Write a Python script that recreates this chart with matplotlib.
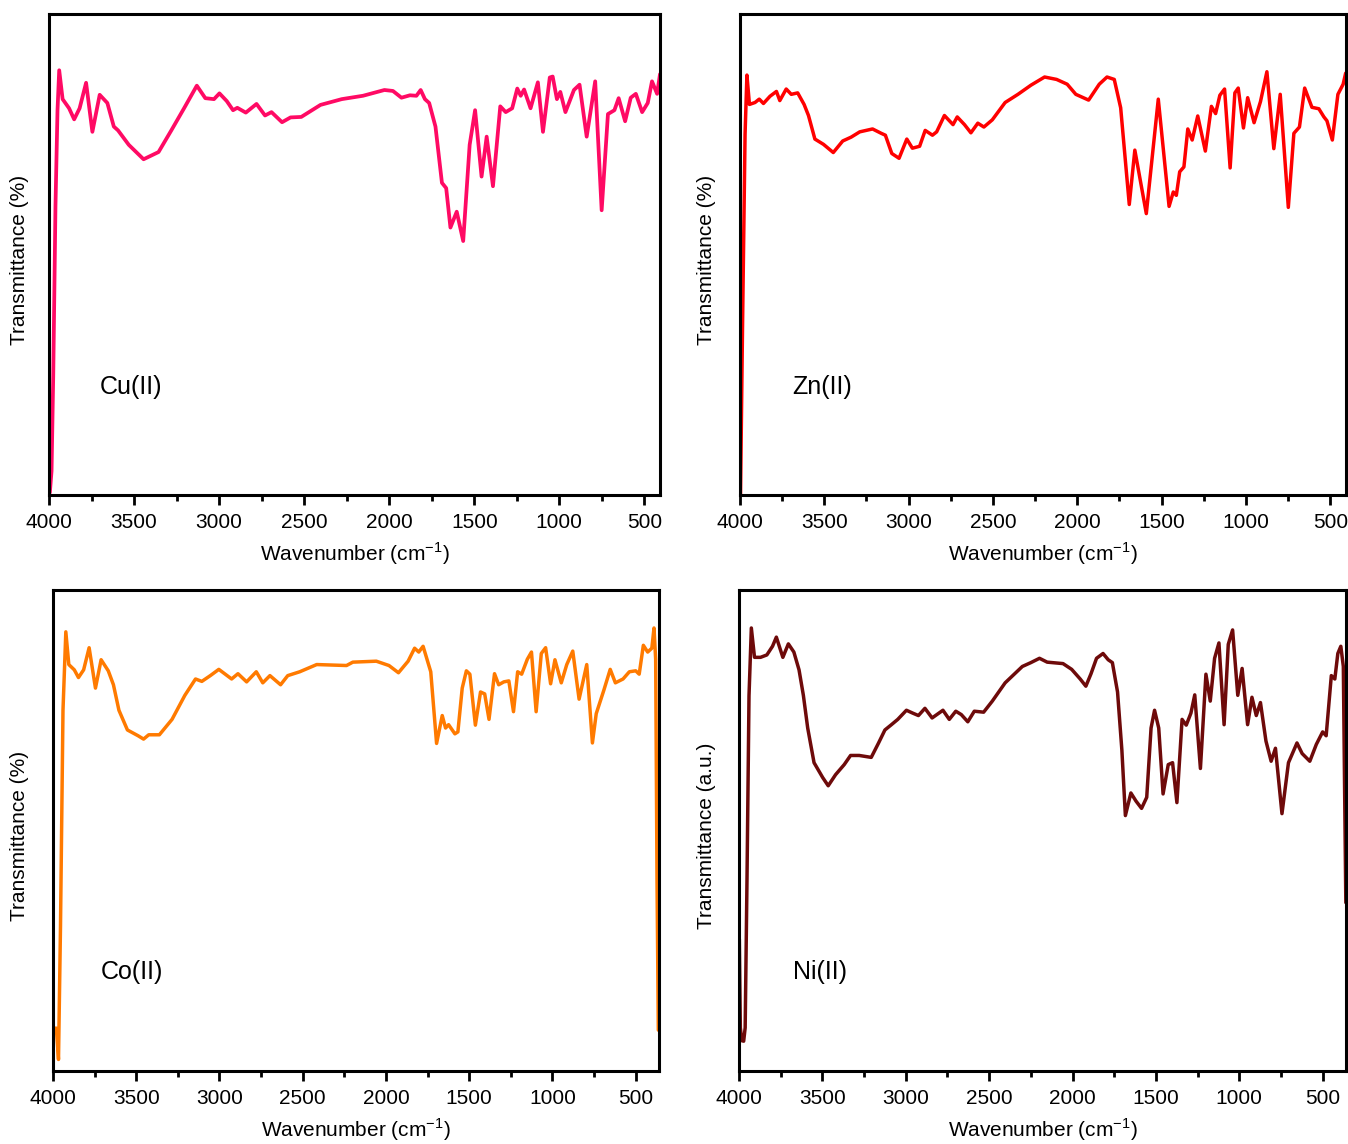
import matplotlib
matplotlib.use("Agg")
import matplotlib.pyplot as plt
from matplotlib.ticker import MultipleLocator

plt.rcParams['font.family'] = ['Liberation Sans', 'DejaVu Sans']
plt.rcParams['mathtext.fontset'] = 'custom'
plt.rcParams['mathtext.rm'] = 'Liberation Sans'

# ---------------- data (wavenumber cm^-1, relative transmittance) ----------------
cu_wn = [3995, 3985, 3975, 3962, 3950, 3940, 3920, 3882, 3852, 3820, 3782, 3745, 3702, 3657,
         3619, 3594, 3531, 3444, 3356, 3281, 3206, 3131, 3081, 3030, 2998, 2955, 2918, 2893,
         2843, 2780, 2730, 2692, 2630, 2580, 2517, 2404, 2279, 2154, 2028, 1978, 1928, 1878,
         1840, 1815, 1790, 1765, 1728, 1690, 1665, 1640, 1603, 1565, 1527, 1495, 1457, 1427,
         1390, 1347, 1315, 1277, 1247, 1227, 1207, 1169, 1126, 1096, 1056, 1039, 1014, 994,
         964, 914, 881, 839, 789, 751, 714, 676, 651, 613, 580, 550, 513, 480, 455, 425, 408]
cu_t = [0.5, 5, 25, 60, 80, 88.3, 82.3, 80.4, 78.1, 80.4, 85.7, 75.5, 83.2, 81.5,
        76.6, 75.8, 72.8, 69.8, 71.3, 75.8, 80.4, 85.1, 82.5, 82.3, 83.5, 81.9, 80.0, 80.5,
        79.5, 81.3, 78.9, 79.6, 77.5, 78.5, 78.6, 81.1, 82.3, 83.0, 84.2, 84.0, 82.6, 83.1,
        83.0, 84.2, 82.3, 81.5, 76.6, 64.9, 63.8, 55.6, 58.9, 52.8, 72.8, 80.0, 66.2, 74.5,
        64.2, 80.8, 79.6, 80.4, 84.5, 83.0, 84.3, 80.4, 85.8, 75.5, 86.8, 87.0, 82.3, 83.8,
        79.6, 84.2, 85.3, 74.5, 86.0, 59.2, 79.2, 80.0, 82.5, 77.7, 82.6, 83.4, 79.6, 81.5,
        86.0, 83.4, 87.5]

zn_wn = [3997, 3985, 3970, 3959, 3944, 3911, 3886, 3861, 3822, 3784, 3764, 3726, 3696, 3658,
         3620, 3594, 3556, 3505, 3447, 3391, 3341, 3290, 3214, 3163, 3138, 3100, 3057, 3011,
         2978, 2935, 2902, 2859, 2834, 2788, 2737, 2712, 2669, 2631, 2590, 2554, 2504, 2428,
         2352, 2275, 2194, 2123, 2060, 2009, 1933, 1870, 1824, 1781, 1743, 1692, 1659, 1591,
         1520, 1456, 1431, 1413, 1393, 1368, 1345, 1319, 1286, 1241, 1205, 1180, 1155, 1127,
         1094, 1066, 1046, 1015, 990, 952, 914, 876, 835, 797, 749, 716, 683, 652, 609, 568,
         538, 520, 488, 455, 424, 409]
zn_t = [0, 35, 75, 87.3, 81.2, 81.6, 82.3, 81.4, 82.9, 83.9, 82.0, 84.4, 83.3, 83.6,
        81.2, 78.9, 74.0, 72.9, 71.2, 73.6, 74.4, 75.5, 76.1, 75.2, 74.8, 71.0, 70.0, 74.0,
        72.1, 72.5, 75.8, 74.8, 75.5, 78.9, 77.0, 78.6, 77.0, 75.3, 77.3, 76.5, 78.0, 81.6,
        83.3, 85.2, 86.9, 86.4, 85.4, 83.3, 82.1, 85.4, 86.9, 86.4, 80.5, 60.4, 71.7, 58.5,
        82.3, 60.0, 63.0, 62.3, 67.2, 68.2, 76.1, 73.8, 78.8, 71.5, 80.8, 79.3, 83.1, 84.4,
        68.0, 83.6, 84.6, 76.3, 82.6, 77.4, 81.8, 88.0, 72.0, 83.3, 59.8, 75.2, 76.5, 84.6,
        80.6, 80.3, 78.6, 77.8, 73.8, 83.3, 85.4, 87.7]

co_wn = [3995, 3980, 3967, 3955, 3940, 3923, 3905, 3872, 3847, 3816, 3783, 3745, 3711, 3668,
         3637, 3604, 3553, 3489, 3456, 3425, 3361, 3285, 3208, 3144, 3106, 3055, 3004, 2927,
         2889, 2837, 2779, 2740, 2697, 2633, 2590, 2518, 2416, 2237, 2199, 2058, 1982, 1925,
         1867, 1828, 1803, 1777, 1731, 1696, 1662, 1642, 1624, 1586, 1568, 1542, 1517, 1496,
         1463, 1432, 1407, 1381, 1348, 1323, 1292, 1262, 1234, 1209, 1185, 1151, 1126, 1098,
         1067, 1041, 1011, 985, 947, 914, 878, 840, 794, 760, 737, 691, 653, 622, 576, 538,
         500, 479, 454, 428, 403, 390, 380, 372, 364]
co_t = [8.9, 8.9, 2.4, 30, 75, 91.3, 84.5, 83.4, 81.8, 83.4, 88.0, 79.6, 85.5, 83.2,
        80.3, 75.0, 70.9, 69.7, 69.0, 69.9, 69.9, 73.1, 78.1, 81.5, 81.0, 82.2, 83.5, 81.5,
        82.6, 80.9, 83.0, 80.7, 82.2, 80.3, 82.2, 83.0, 84.5, 84.3, 85.0, 85.2, 84.3, 82.8,
        85.2, 87.9, 87.1, 88.3, 83.0, 68.1, 73.9, 71.3, 72.0, 70.1, 70.5, 79.6, 83.2, 82.5,
        71.9, 78.8, 78.4, 73.1, 82.6, 80.3, 80.9, 81.1, 74.7, 83.0, 82.5, 85.6, 87.1, 74.7,
        86.8, 88.0, 80.5, 85.5, 80.7, 84.5, 87.3, 77.3, 84.5, 68.2, 74.3, 79.2, 83.5, 80.7,
        81.5, 83.0, 83.2, 82.5, 88.5, 87.1, 87.9, 92.1, 85.6, 40, 8.5]

ni_wn = [3998, 3992, 3983, 3972, 3963, 3952, 3940, 3926, 3907, 3871, 3833, 3799, 3776, 3737,
         3704, 3671, 3640, 3614, 3588, 3550, 3498, 3465, 3421, 3369, 3331, 3279, 3207, 3163,
         3125, 3086, 3048, 2996, 2958, 2924, 2885, 2842, 2777, 2739, 2700, 2667, 2628, 2589,
         2533, 2481, 2404, 2301, 2250, 2198, 2152, 2057, 2005, 1954, 1920, 1889, 1856, 1817,
         1786, 1761, 1730, 1704, 1683, 1650, 1619, 1586, 1555, 1529, 1508, 1483, 1457, 1426,
         1400, 1374, 1343, 1318, 1290, 1267, 1233, 1200, 1174, 1148, 1122, 1091, 1066, 1040,
         1009, 983, 950, 924, 898, 873, 840, 809, 783, 744, 705, 654, 623, 577, 538, 500, 479,
         448, 427, 409, 391, 376, 368, 361]
ni_t = [27.4, 9, 6.3, 6.2, 9, 40, 78, 92.1, 86.0, 86.0, 86.5, 88.3, 90.2, 86.0,
        88.8, 87.1, 83.4, 78.1, 71.3, 64.1, 61.0, 59.3, 61.6, 63.7, 65.6, 65.6, 65.2, 68.2,
        70.9, 72.0, 73.1, 75.0, 74.4, 73.9, 75.4, 73.4, 75.0, 73.1, 74.8, 74.1, 72.6, 74.8,
        74.6, 76.9, 80.7, 84.1, 84.9, 85.8, 85.0, 84.7, 83.5, 81.5, 80.0, 82.6, 85.8, 86.8,
        85.5, 84.9, 78.8, 66.7, 53.1, 57.8, 56.1, 54.6, 56.9, 71.3, 75.0, 71.3, 57.6, 63.7,
        64.1, 55.8, 73.1, 71.9, 74.4, 78.2, 62.9, 82.5, 76.9, 85.8, 89.0, 72.0, 88.7, 91.7,
        78.1, 83.7, 72.0, 77.7, 73.9, 76.6, 68.6, 64.4, 67.1, 53.5, 64.1, 68.2, 66.0, 64.4,
        67.9, 70.5, 69.7, 82.2, 81.5, 86.8, 88.3, 84.1, 57.6, 35]

labels = ["Cu(II)", "Zn(II)", "Co(II)", "Ni(II)"]
ylabels = ["Transmittance (%)", "Transmittance (%)", "Transmittance (%)", "Transmittance (a.u.)"]
colors = ["#FF0A64", "#FF0000", "#FF7A00", "#6E0A0A"]
xticks = [4000, 3500, 3000, 2500, 2000, 1500, 1000, 500]

# ---------------- layout ----------------
W, H = 1348, 1144
fig = plt.figure(figsize=(W / 100, H / 100), dpi=100)

# (left, right, top, bottom) in pixels, x right limit, label pos, ylabel x px
panels = [
    ((49, 660, 14, 495), 408, 0.083, 0.224, 20),
    ((740, 1346, 14, 495), 407, 0.087, 0.224, 706),
    ((53, 659, 590, 1071), 360, 0.078, 0.206, 20),
    ((739, 1346, 590, 1071), 360, 0.089, 0.206, 706),
]
data = [(cu_wn, cu_t), (zn_wn, zn_t), (co_wn, co_t), (ni_wn, ni_t)]
widths = [2.7, 2.5, 2.5, 2.5]

for i, ((l, r, t, b), xr, lx, ly, ylx) in enumerate(panels):
    ax = fig.add_axes([l / W, 1 - b / H, (r - l) / W, (b - t) / H])
    wn, tr = data[i]
    ax.plot(wn, tr, color=colors[i], lw=widths[i], solid_joinstyle='round',
            solid_capstyle='round')
    ax.set_xlim(4000, xr)
    ax.set_ylim(0, 100)
    ax.set_xticks(xticks)
    ax.set_xticklabels([str(v) for v in xticks])
    ax.xaxis.set_minor_locator(MultipleLocator(250))
    ax.set_yticks([])
    ax.tick_params(axis='x', which='major', direction='out', length=7, width=2,
                   labelsize=15, pad=6)
    ax.tick_params(axis='x', which='minor', direction='out', length=4, width=2)
    for s in ax.spines.values():
        s.set_linewidth(2.2)
        s.set_color('black')
    ax.set_xlabel("Wavenumber (cm$^{-1}$)", fontsize=15, labelpad=6)
    fig.text(ylx / W, 1 - ((t + b) / 2 + 5) / H, ylabels[i], rotation=90,
             ha='center', va='center', fontsize=15)
    ax.text(lx, ly, labels[i], transform=ax.transAxes, fontsize=18,
            ha='left', va='center')

fig.savefig("out.png", dpi=100)
